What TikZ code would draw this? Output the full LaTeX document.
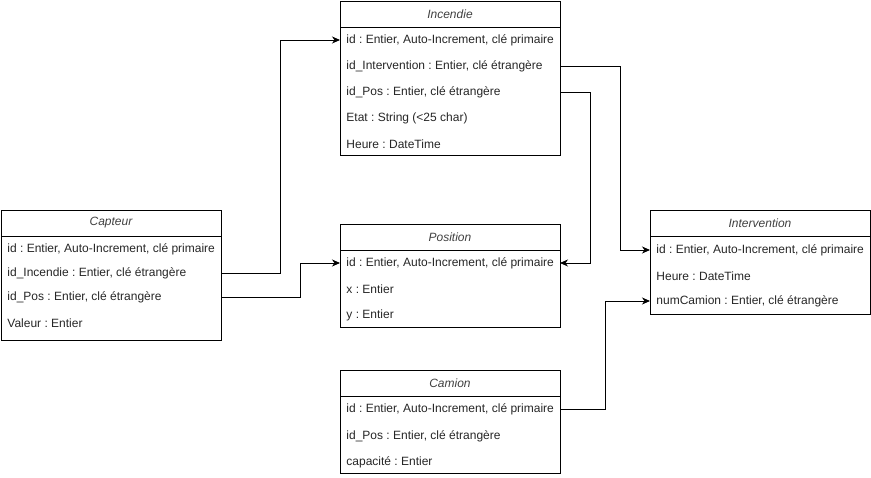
\documentclass[tikz,border=0pt]{standalone}
\usepackage{fontspec}
\setmainfont{Liberation Sans}
\usepackage{tikz}
\usetikzlibrary{arrows.meta, positioning, calc}
\frenchspacing

\tikzset{
  table/.style={draw, anchor=north west, minimum width=220pt, inner sep=0pt, outer sep=0pt},
  champ/.style={anchor=west, inner sep=0pt, text=black!85},
  titre/.style={font=\fontsize{12}{14}\selectfont\itshape, text=black!75, inner sep=0pt},
  lien/.style={line width=0.9pt, -{Stealth[length=8pt,width=7pt,inset=2.5pt]}}
}

\begin{document}
\begin{tikzpicture}[x=1pt, y=-1pt, font=\fontsize{12}{14}\selectfont, line width=0.9pt]
    \useasboundingbox (0,0) rectangle (871,478);
    \def\w{220}
    % Incendie
    \node[table, minimum height=154pt] (inc) at (340,1) {};
    \draw (340,27) -- (340+\w,27);
    \node[titre] (inc-t) at (340+\w/2,14) {Incendie};
    \node[champ] (inc-id) at (346,40) {id : Entier, Auto-Increment, clé primaire};
    \node[champ] (inc-int) at (346,66) {id\_Intervention : Entier, clé étrangère};
    \node[champ] (inc-pos) at (346,92) {id\_Pos : Entier, clé étrangère};
    \node[champ] (inc-etat) at (346,118) {Etat : String (<25 char)};
    \node[champ] (inc-heure) at (346,144) {Heure : DateTime};
    % Capteur
    \node[table, minimum height=130pt] (cap) at (1,210) {};
    \draw (1,236) -- (1+\w,236);
    \node[titre] (cap-t) at (1+\w/2,223) {Capteur};
    \node[champ] (cap-id) at (7,249) {id : Entier, Auto-Increment, clé primaire};
    \node[champ] (cap-inc) at (7,273) {id\_Incendie : Entier, clé étrangère};
    \node[champ] (cap-pos) at (7,297) {id\_Pos : Entier, clé étrangère};
    \node[champ] (cap-val) at (7,323) {Valeur : Entier};
    % Position
    \node[table, minimum height=103pt] (pos) at (340,224) {};
    \draw (340,250) -- (340+\w,250);
    \node[titre] (pos-t) at (340+\w/2,237) {Position};
    \node[champ] (pos-id) at (346,263) {id : Entier, Auto-Increment, clé primaire};
    \node[champ] (pos-x) at (346,289) {x : Entier};
    \node[champ] (pos-y) at (346,315) {y : Entier};
    % Camion
    \node[table, minimum height=103pt] (cam) at (340,370) {};
    \draw (340,396) -- (340+\w,396);
    \node[titre] (cam-t) at (340+\w/2,383) {Camion};
    \node[champ] (cam-id) at (346,409) {id : Entier, Auto-Increment, clé primaire};
    \node[champ] (cam-pos) at (346,436) {id\_Pos : Entier, clé étrangère};
    \node[champ] (cam-cap) at (346,462) {capacité : Entier};
    % Intervention
    \node[table, minimum height=104pt] (int) at (650,210) {};
    \draw (650,236) -- (650+\w,236);
    \node[titre] (int-t) at (650+\w/2,223) {Intervention};
    \node[champ] (int-id) at (656,250) {id : Entier, Auto-Increment, clé primaire};
    \node[champ] (int-heure) at (656,276) {Heure : DateTime};
    \node[champ] (int-cam) at (656,301) {numCamion : Entier, clé étrangère};
    % liens
    \draw[lien] (cap-inc -| cap.east) -- ++(59,0) |- (inc-id -| inc.west);
    \draw[lien] (cap-pos -| cap.east) -- ++(79,0) |- (pos-id -| pos.west);
    \draw[lien] (inc-int -| inc.east) -- ++(60,0) |- (int-id -| int.west);
    \draw[lien] (inc-pos -| inc.east) -- ++(30,0) |- (pos-id -| pos.east);
    \draw[lien] (cam-id -| cam.east) -- ++(45,0) |- (int-cam -| int.west);
\end{tikzpicture}
\end{document}
